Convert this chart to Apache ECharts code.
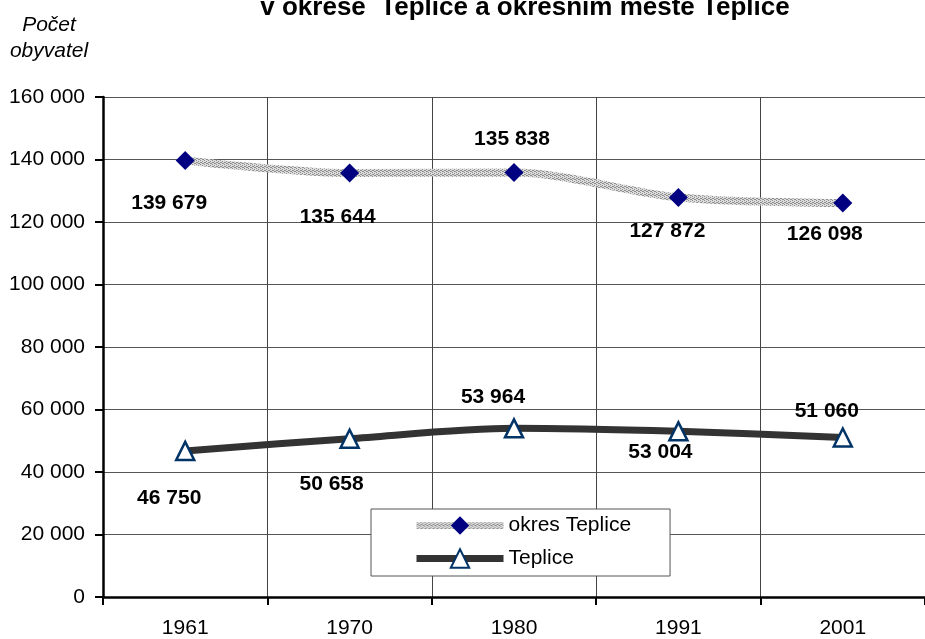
<!DOCTYPE html>
<html>
<head>
<meta charset="utf-8">
<script src="https://cdn.jsdelivr.net/npm/echarts@6/dist/echarts.min.js"></script>
<style>
  html, body { margin: 0; padding: 0; background: #fff; }
  #chart { width: 925px; height: 639px; }
</style>
</head>
<body>
<div id="chart"></div>
<script>
// roky scitani
const years = ['1961', '1970', '1980', '1991', '2001']
// pocet obyvatel
const okresValues = [139679, 135644, 135838, 127872, 126098]
const mestoValues = [46750, 50658, 53964, 53004, 51060]
// posun popisku vuci bodu [dx, dy]
const okresLabelOffsets = [[-16, 43], [-12, 44], [-2, -33], [-11, 34], [-18, 31]]
const mestoLabelOffsets = [[-16, 47], [-18, 46], [-21, -31], [-18, 21], [-16, -26]]

const fmt = (v) => String(v).replace(/\B(?=(\d{3})+(?!\d))/g, ' ')

// sedy "texturovany" vzor pro okresni caru
const pat = document.createElement('canvas')
pat.width = 4
pat.height = 4
const pctx = pat.getContext('2d')
pctx.fillStyle = '#dcdcdc'
pctx.fillRect(0, 0, 4, 4)
pctx.fillStyle = '#8e8e8e'
pctx.fillRect(0, 0, 1, 1)
pctx.fillRect(2, 1, 1, 1)
pctx.fillRect(1, 2, 1, 1)
pctx.fillRect(3, 3, 1, 1)
pctx.fillRect(2, 3, 1, 1)
pctx.fillRect(0, 2, 1, 1)

const labelStyle = {
  show: true,
  position: 'inside',
  fontFamily: 'Liberation Sans',
  fontSize: 21,
  fontWeight: 'bold',
  color: '#000',
  formatter: (p) => fmt(p.value)
}

const myChart = echarts.init(document.getElementById('chart'))
myChart.setOption({
  animation: false,
  textStyle: { fontFamily: 'Liberation Sans' },
  title: {
    text: 'v okrese  Teplice a okresním městě Teplice',
    left: 525,
    textAlign: 'center',
    top: -5,
    padding: 0,
    textStyle: { fontFamily: 'Liberation Sans', fontSize: 26, fontWeight: 'bold', color: '#000' }
  },
  graphic: [{
    type: 'text',
    x: 49,
    y: 12,
    style: {
      text: 'Počet\nobyvatel',
      align: 'center',
      fontFamily: 'Liberation Sans',
      fontSize: 21,
      fontStyle: 'italic',
      lineHeight: 26,
      fill: '#000'
    }
  }],
  grid: {
    left: 103,
    top: 97,
    right: -8,
    bottom: 42
  },
  legend: {
    left: 371,
    top: 509,
    orient: 'vertical',
    backgroundColor: '#fff',
    borderColor: '#555',
    borderWidth: 1,
    borderRadius: 0,
    padding: [6, 39, 7, 42],
    itemGap: 12,
    itemWidth: 87,
    itemHeight: 23,
    itemTextGap: 3,
    lineStyle: { width: 7 },
    textStyle: { fontFamily: 'Liberation Sans', fontSize: 21, color: '#000' },
    data: ['okres Teplice', 'Teplice']
  },
  xAxis: {
    type: 'category',
    data: years,
    boundaryGap: true,
    axisLine: { lineStyle: { color: '#000', width: 2.5 } },
    axisTick: { show: true, length: 8, lineStyle: { color: '#000', width: 2 } },
    axisLabel: { fontFamily: 'Liberation Sans', fontSize: 21, color: '#000', margin: 21 },
    splitLine: { show: true, interval: 0, lineStyle: { color: '#444', width: 1 } }
  },
  yAxis: {
    type: 'value',
    min: 0,
    max: 160000,
    interval: 20000,
    axisLine: { show: true, lineStyle: { color: '#000', width: 2.5 } },
    axisTick: { show: true, inside: false, length: 8, lineStyle: { color: '#000', width: 2 } },
    axisLabel: {
      fontFamily: 'Liberation Sans',
      fontSize: 21,
      color: '#000',
      margin: 18,
      formatter: (v) => fmt(v)
    },
    splitLine: { show: true, lineStyle: { color: '#555', width: 1 } }
  },
  series: [
    {
      name: 'okres Teplice',
      type: 'line',
      smooth: 0.3,
      data: okresValues.map((v, i) => ({
        value: v,
        label: Object.assign({}, labelStyle, { offset: okresLabelOffsets[i] })
      })),
      symbol: 'diamond',
      symbolSize: 19,
      itemStyle: { color: '#000080', borderWidth: 0 },
      lineStyle: { width: 8, color: { image: pat, repeat: 'repeat' } },
      z: 3
    },
    {
      name: 'Teplice',
      type: 'line',
      smooth: 0.3,
      data: mestoValues.map((v, i) => ({
        value: v,
        label: Object.assign({}, labelStyle, { offset: mestoLabelOffsets[i] })
      })),
      symbol: 'triangle',
      symbolSize: 18,
      itemStyle: { color: '#fff', borderColor: '#003366', borderWidth: 2.5 },
      lineStyle: { width: 7, color: '#333' },
      z: 3
    }
  ]
})
</script>
</body>
</html>
